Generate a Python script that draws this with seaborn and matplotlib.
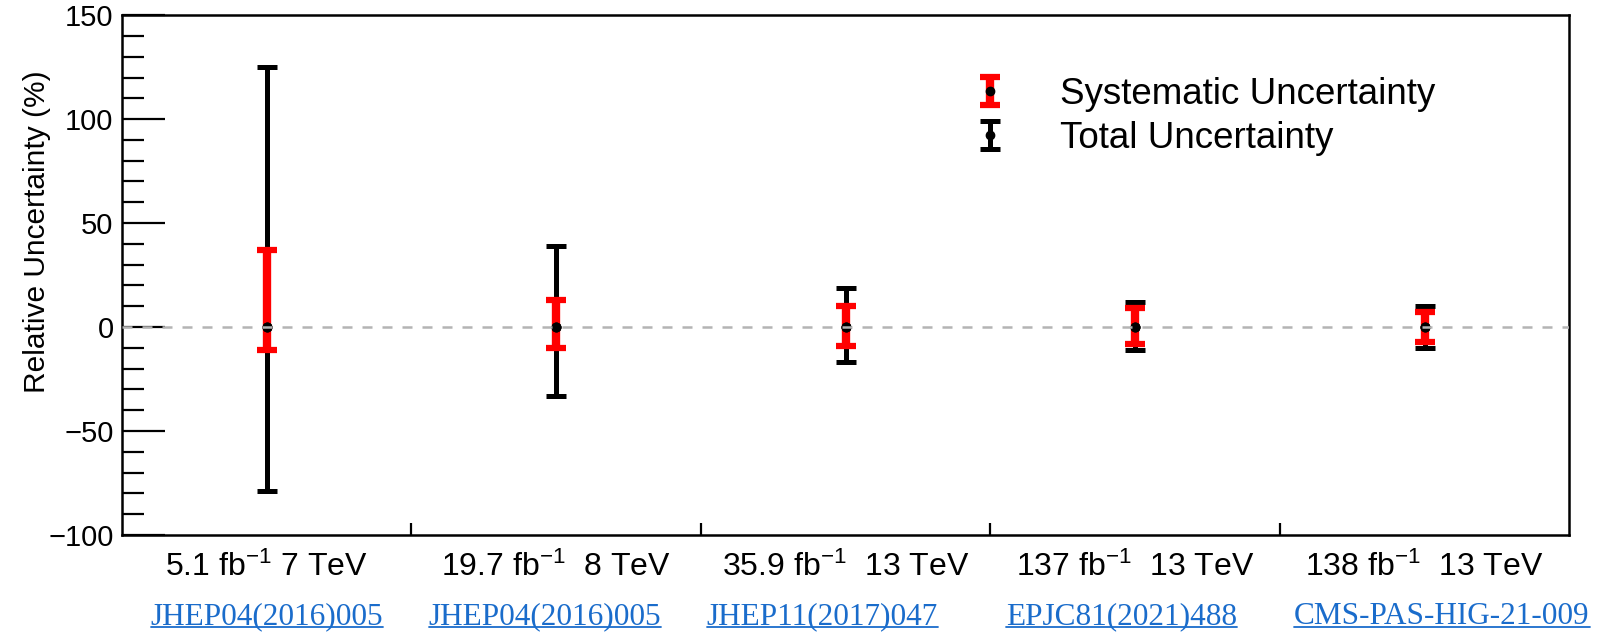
import numpy as np
import pandas as pd
import matplotlib
matplotlib.use("Agg")
import matplotlib.pyplot as plt
import seaborn as sns
from matplotlib.ticker import MultipleLocator, FixedLocator
from matplotlib.transforms import blended_transform_factory
from matplotlib.legend_handler import HandlerErrorbar

# ---- data ----
datasets = ["5.1 fb$^{-1}$ 7 TeV", "19.7 fb$^{-1}$  8 TeV", "35.9 fb$^{-1}$  13 TeV",
            "137 fb$^{-1}$  13 TeV", "138 fb$^{-1}$  13 TeV"]
references = ["JHEP04(2016)005", "JHEP04(2016)005", "JHEP11(2017)047",
              "EPJC81(2021)488", "CMS-PAS-HIG-21-009"]
central = [0, 0, 0, 0, 0]
total_up = [125, 39, 19, 12, 10]
total_down = [79, 33, 17, 11, 10]
syst_up = [37, 13, 10, 9, 7]
syst_down = [11, 10, 9, 8, 7]

# layout: left offset of each reference link within its bin
link_offsets = [0.10, 0.06, 0.02, 0.055, 0.05]

sns.set_theme(style="ticks")
plt.rcParams['font.family'] = ['Liberation Sans', 'DejaVu Sans']
plt.rcParams['text.color'] = 'black'
plt.rcParams['axes.labelcolor'] = 'black'
plt.rcParams['xtick.color'] = 'black'
plt.rcParams['ytick.color'] = 'black'
plt.rcParams['mathtext.fontset'] = 'custom'
plt.rcParams['mathtext.rm'] = 'Liberation Sans'
plt.rcParams['mathtext.it'] = 'Liberation Sans:italic'
plt.rcParams['mathtext.bf'] = 'Liberation Sans:bold'

fig = plt.figure(figsize=(15.98, 6.33), dpi=100)
ax = fig.add_axes([0.0763, 0.155, 0.9057, 0.821])

n = len(datasets)
xpos = np.arange(n) + 0.5
df = pd.DataFrame({"x": xpos, "y": central})

ax.axhline(0, color="#b4b4b4", ls=(0, (4, 4)), lw=1.8, zorder=5)

tot = ax.errorbar(xpos, central, yerr=[total_down, total_up], fmt="o", color="black",
                  ecolor="black", elinewidth=3.6, capsize=7, capthick=3.6, ms=6,
                  zorder=2, label="Total Uncertainty")
sys_ = ax.errorbar(xpos, central, yerr=[syst_down, syst_up], fmt="o", color="black",
                   ecolor="red", elinewidth=6, capsize=7.5, capthick=4.5, ms=6,
                   zorder=3, label="Systematic Uncertainty")
sns.scatterplot(data=df, x="x", y="y", color="black", s=45, zorder=4, ax=ax,
                edgecolor="black", legend=False)

ax.set_xlim(0, n)
ax.set_ylim(-100, 150)
ax.yaxis.set_major_locator(MultipleLocator(50))
ax.yaxis.set_minor_locator(MultipleLocator(10))
ax.tick_params(axis="y", which="major", direction="in", length=31, width=1.6,
               labelsize=21, pad=6, right=False)
ax.tick_params(axis="y", which="minor", direction="in", length=16, width=1.6, right=False)

ax.xaxis.set_major_locator(FixedLocator(np.arange(1, n)))
ax.set_xticklabels([""] * (n - 1))
ax.set_xticks(xpos, minor=True)
ax.set_xticklabels(datasets, minor=True)
ax.tick_params(axis="x", which="major", direction="in", length=9, width=1.6, top=False)
ax.tick_params(axis="x", which="minor", length=0, labelsize=23, pad=12, top=False)

for s in ax.spines.values():
    s.set_linewidth(1.8)
    s.set_color("black")

ax.set_xlabel("")
ax.set_ylabel("Relative Uncertainty (%)", fontsize=21.5)
ax.yaxis.set_label_coords(-0.049, 0.584)

trans = blended_transform_factory(ax.transData, fig.transFigure)
link_texts = []
for i, r in enumerate(references):
    t = ax.text(i + link_offsets[i], 0.026, r, transform=trans, ha="left", va="center",
                fontsize=22.5, color="#1a6ccb", family=["Liberation Serif"])
    link_texts.append(t)

leg = ax.legend(handles=[sys_, tot], labels=["Systematic Uncertainty", "Total Uncertainty"],
                loc="center left", bbox_to_anchor=(0.5895, 0.805), frameon=False,
                fontsize=26.5, handlelength=0.8, handletextpad=1.5, labelspacing=0.25,
                borderpad=0, borderaxespad=0,
                handler_map={type(sys_): HandlerErrorbar(yerr_size=0.38)})

fig.canvas.draw()
renderer = fig.canvas.get_renderer()
inv = fig.transFigure.inverted()
for t in link_texts:
    bb = t.get_window_extent(renderer)
    (x0, y0), (x1, y1) = inv.transform([[bb.x0, bb.y0], [bb.x1, bb.y1]])
    fig.add_artist(plt.Line2D([x0, x1], [y0 + 0.007, y0 + 0.007], color="#1a6ccb",
                              lw=1.3, transform=fig.transFigure))

fig.savefig("out.png", dpi=100)
